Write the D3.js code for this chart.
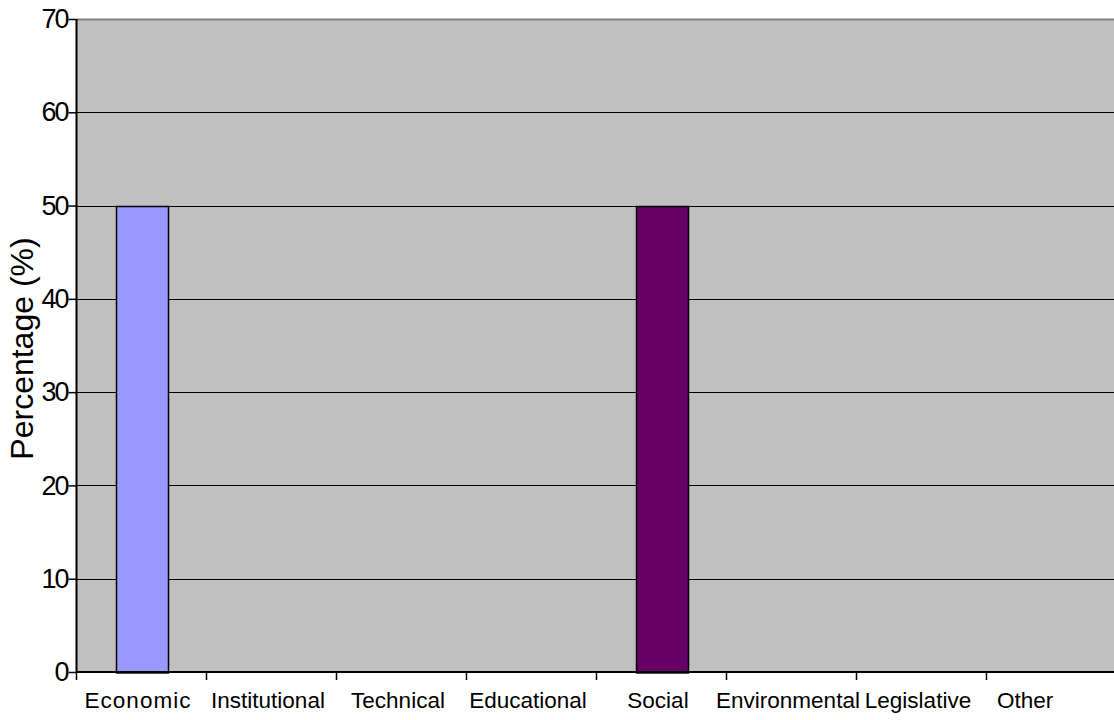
<!DOCTYPE html>
<html>
<head>
<meta charset="utf-8">
<script src="https://cdn.jsdelivr.net/npm/d3@7"></script>
<style>
  html, body { margin: 0; padding: 0; background: #ffffff; }
  svg { display: block; }
  text { font-family: "Liberation Sans", Arial, sans-serif; fill: #000; }
</style>
</head>
<body>
<svg id="chart" width="1114" height="720"></svg>
<script>
const categories = ["Economic", "Institutional", "Technical", "Educational", "Social", "Environmental", "Legislative", "Other"];
const values = [50, 0, 0, 0, 50, 0, 0, 0];
const barColors = ["#9999FF", "#993366", "#FFFFCC", "#CCFFFF", "#660066", "#FF8080", "#0066CC", "#CCCCFF"];
const yTicks = [0, 10, 20, 30, 40, 50, 60, 70];
const yTitle = "Percentage (%)";

const svg = d3.select("#chart");
const mLeft = 77, mRight = 1117, mTop = 19, mBottom = 672;

const x = d3.scaleBand().domain(categories).range([mLeft, mRight]).paddingInner(0).paddingOuter(0);
const y = d3.scaleLinear().domain([0, 70]).range([mBottom, mTop]);

// plot background
svg.append("rect")
  .attr("x", mLeft).attr("y", mTop)
  .attr("width", mRight - mLeft).attr("height", mBottom - mTop)
  .attr("fill", "#C0C0C0");

// gridlines
svg.append("g").selectAll("line")
  .data(yTicks.filter(d => d > 0 && d < 70))
  .join("line")
  .attr("x1", mLeft).attr("x2", mRight)
  .attr("y1", d => Math.round(y(d)) + 0.5).attr("y2", d => Math.round(y(d)) + 0.5)
  .attr("stroke", "#000").attr("stroke-width", 1);

// top border
svg.append("line")
  .attr("x1", mLeft).attr("x2", mRight)
  .attr("y1", mTop + 0.5).attr("y2", mTop + 0.5)
  .attr("stroke", "#808080").attr("stroke-width", 2);

// bars
const bw = x.bandwidth() * 0.4;
svg.append("g").selectAll("rect")
  .data(categories.map((c, i) => ({c, v: values[i], color: barColors[i]})).filter(d => d.v > 0))
  .join("rect")
  .attr("x", d => Math.round(x(d.c) + (x.bandwidth() - bw) / 2) + 0.5)
  .attr("y", d => Math.round(y(d.v)) + 0.5)
  .attr("width", bw)
  .attr("height", d => y(0) - y(d.v))
  .attr("fill", d => d.color)
  .attr("stroke", "#000").attr("stroke-width", 1.5);

// y axis
const yAxis = d3.axisLeft(y).tickValues(yTicks).tickSize(8).tickPadding(1);
const gy = svg.append("g").attr("transform", `translate(${mLeft - 0.5},0)`).call(yAxis);
gy.select(".domain").attr("stroke", "#000").attr("stroke-width", 2).attr("d", `M0,${mTop}V${mBottom}`);
gy.selectAll(".tick line").attr("stroke", "#000").attr("stroke-width", 1.5);
gy.selectAll(".tick text")
  .attr("font-size", 27).attr("letter-spacing", "-2px")
  .attr("font-family", "Liberation Sans, Arial, sans-serif")
  .attr("fill", "#000");

// x axis
const xTickPositions = d3.range(categories.length + 1).map(i => mLeft + i * x.bandwidth());
const gx = svg.append("g");
gx.append("line")
  .attr("x1", mLeft - 1).attr("x2", mRight)
  .attr("y1", mBottom).attr("y2", mBottom)
  .attr("stroke", "#000").attr("stroke-width", 2);
gx.selectAll("line.tk")
  .data(xTickPositions)
  .join("line").attr("class", "tk")
  .attr("x1", d => d - 0.5).attr("x2", d => d - 0.5)
  .attr("y1", mBottom).attr("y2", mBottom + 8)
  .attr("stroke", "#000").attr("stroke-width", 1.5);
const lastCat = categories[categories.length - 1];
gx.selectAll("text")
  .data(categories)
  .join("text")
  .attr("x", d => d === lastCat ? x(d) + 10 : x(d) + x.bandwidth() / 2 - 4)
  .attr("y", 708)
  .attr("text-anchor", d => d === lastCat ? "start" : "middle")
  .attr("font-size", 22.5)
  .attr("letter-spacing", d => d === "Economic" ? "1px" : "0px")
  .text(d => d);

// y title
svg.append("text")
  .attr("transform", `translate(33,${(mTop + mBottom) / 2 + 3}) rotate(-90)`)
  .attr("text-anchor", "middle")
  .attr("font-size", 32)
  .text(yTitle);
</script>
</body>
</html>
